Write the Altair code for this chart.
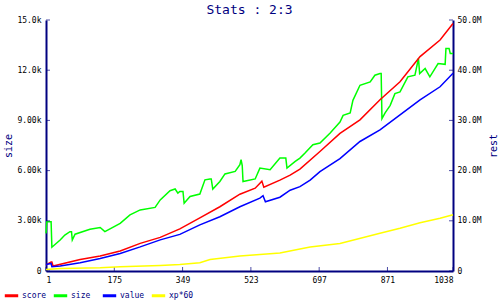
import altair as alt
import pandas as pd

# ---- data ----
size_x = [1, 3, 14, 16, 37, 49, 62, 66, 68, 75, 113, 139, 151, 190, 215, 241, 279, 292, 317, 330,
          337, 342, 350, 353, 368, 393, 406, 419, 422, 426, 444, 457, 483, 495, 498, 501, 503, 534, 546, 572,
          597, 612, 615, 636, 648, 661, 681, 699, 725, 750, 758, 776, 783, 801, 827, 839, 852, 855, 857, 865,
          878, 890, 903, 923, 941, 950, 953, 967, 979, 1000, 1018, 1020, 1028, 1031, 1038]
size_k = [2.25, 2.95, 2.95, 1.42, 1.85, 2.15, 2.35, 2.35, 1.85, 2.2, 2.5, 2.6, 2.35, 2.85, 3.35, 3.65, 3.8, 4.25, 4.8, 4.9,
          4.65, 4.75, 4.75, 4.05, 4.45, 4.6, 5.45, 5.5, 5.5, 4.9, 5.35, 5.8, 5.95, 6.35, 6.65, 6.3, 5.35, 5.5, 6.15, 6.05,
          6.75, 6.75, 6.15, 6.55, 6.75, 7.05, 7.55, 7.65, 8.25, 8.9, 9.3, 9.45, 10.2, 11.1, 11.3, 11.7, 11.8, 11.8, 9.1, 9.45,
          9.9, 10.6, 10.7, 11.6, 11.7, 12.7, 11.8, 12.1, 11.6, 12.4, 12.35, 13.3, 13.3, 13.0, 13.0]

score_x = [1, 14, 16, 19, 88, 139, 190, 241, 292, 342, 393, 444, 495, 534, 551, 556, 597, 623, 648, 699,
           750, 801, 852, 903, 954, 1005, 1038]
score_m = [1.2, 1.8, 1.8, 1.0, 2.3, 3.0, 4.0, 5.5, 6.7, 8.4, 10.6, 12.8, 15.3, 16.5, 17.9, 16.7, 18.1, 19.1, 20.3, 23.8,
           27.4, 30.1, 34.1, 37.7, 42.7, 46.0, 49.3]

value_x = [1, 14, 16, 37, 88, 139, 190, 241, 292, 342, 393, 444, 495, 546, 554, 560, 597, 623, 648, 674,
           699, 750, 801, 852, 903, 954, 1005, 1038]
value_m = [1.3, 1.5, 0.85, 1.0, 1.65, 2.5, 3.5, 4.8, 6.2, 7.3, 9.2, 10.8, 12.8, 14.5, 15.0, 13.8, 14.7, 16.1, 16.8, 18.1,
           19.8, 22.4, 25.8, 28.1, 31.1, 34.1, 36.7, 39.4]

xp_x = [1, 37, 139, 190, 292, 342, 393, 419, 495, 597, 648, 674, 750, 852, 903, 954, 1005, 1038]
xp_m = [0.3, 0.5, 0.66, 0.86, 1.1, 1.3, 1.65, 2.3, 3.0, 3.6, 4.4, 4.8, 5.5, 7.5, 8.5, 9.6, 10.5, 11.2]

series_names = ["score", "size", "value", "xp*60"]
series_colors = ["#ff0000", "#00ff00", "#0000ff", "#ffff00"]

x_ticks = [1, 175, 349, 523, 697, 871, 1038]
left_ticks = [0, 3000, 6000, 9000, 12000, 15000]
right_ticks = [0, 10000000, 20000000, 30000000, 40000000, 50000000]

rows = []
for x, v in zip(score_x, score_m):
    rows.append({"x": x, "v": v * 1e6, "series": "score"})
for x, v in zip(size_x, size_k):
    rows.append({"x": x, "v": v * 1e3, "series": "size"})
for x, v in zip(value_x, value_m):
    rows.append({"x": x, "v": v * 1e6, "series": "value"})
for x, v in zip(xp_x, xp_m):
    rows.append({"x": x, "v": v * 1e6, "series": "xp*60"})
df = pd.DataFrame(rows)

left_df = pd.DataFrame({"v": left_ticks})
right_df = pd.DataFrame({"v": right_ticks})
xt_df = pd.DataFrame({"x": x_ticks})

NAVY = "#000080"
FONT = "DejaVu Sans Mono"

xscale = alt.Scale(domain=[1, 1038], nice=False, zero=False)
lscale = alt.Scale(domain=[0, 15000], nice=False)
rscale = alt.Scale(domain=[0, 50000000], nice=False)

common_axis = dict(ticks=False, grid=False, domainColor=NAVY, domainWidth=2,
                   labelColor="black", labelFont=FONT, labelFontSize=8,
                   titleColor=NAVY, titleFont=FONT, titleFontSize=10, titleFontWeight="normal")

x_axis = alt.Axis(values=x_ticks, format="d", title=None, labelPadding=5, **common_axis)
left_axis = alt.Axis(values=left_ticks, title="size", orient="left",
                     labelExpr="datum.value == 0 ? '0' : format(datum.value, '.3s')",
                     labelPadding=5, titlePadding=3, **common_axis)
right_axis = alt.Axis(values=right_ticks, title="rest", orient="right", titleAngle=270,
                      labelExpr="datum.value == 0 ? '0' : format(datum.value, '.3s')",
                      labelPadding=4, titlePadding=17, **common_axis)

color_enc = alt.Color("series:N",
                      scale=alt.Scale(domain=series_names, range=series_colors),
                      legend=alt.Legend(title=None, orient="none", legendX=-43, legendY=267,
                                        direction="horizontal", symbolType="stroke",
                                        symbolStrokeWidth=3, symbolSize=180, gridAlign="all",
                                        columnPadding=0, labelOffset=2, padding=0,
                                        labelFont=FONT, labelFontSize=8, labelColor=NAVY))

size_line = alt.Chart(df).transform_filter(alt.datum.series == "size").mark_line(strokeWidth=1.5).encode(
    x=alt.X("x:Q", scale=xscale, axis=x_axis, title=None),
    y=alt.Y("v:Q", scale=lscale, axis=left_axis, title="size"),
    color=color_enc,
)
left_tick_marks = alt.Chart(left_df).mark_tick(orient="horizontal", size=4, thickness=1,
                                               color=NAVY, xOffset=2).encode(
    x=alt.X(datum=1, scale=xscale, axis=x_axis, title=None),
    y=alt.Y("v:Q", scale=lscale, axis=left_axis, title="size"),
)
bottom_tick_marks = alt.Chart(xt_df).mark_tick(orient="vertical", size=4, thickness=1,
                                               color=NAVY, yOffset=-2).encode(
    x=alt.X("x:Q", scale=xscale, axis=x_axis, title=None),
    y=alt.Y(datum=0, scale=lscale, axis=left_axis, title="size"),
)
left_group = alt.layer(size_line, left_tick_marks, bottom_tick_marks)

rest_lines = alt.Chart(df).transform_filter(alt.datum.series != "size").mark_line(strokeWidth=1.5).encode(
    x=alt.X("x:Q", scale=xscale, axis=x_axis, title=None),
    y=alt.Y("v:Q", scale=rscale, axis=right_axis, title="rest"),
    color=color_enc,
)
right_tick_marks = alt.Chart(right_df).mark_tick(orient="horizontal", size=4, thickness=1,
                                                 color=NAVY, xOffset=-2).encode(
    x=alt.X(datum=1038, scale=xscale, axis=x_axis, title=None),
    y=alt.Y("v:Q", scale=rscale, axis=right_axis, title="rest"),
)
right_group = alt.layer(rest_lines, right_tick_marks)

chart = alt.layer(left_group, right_group).resolve_scale(y="independent").properties(
    width=407, height=251,
    title=alt.Title("Stats : 2:3", font=FONT, fontSize=13, color=NAVY, fontWeight="normal",
                    anchor="middle", frame="group", offset=-1),
    autosize=alt.AutoSizeParams(type="none"),
    padding={"left": 46, "top": 20, "right": 47, "bottom": 29},
    background="white",
).configure_view(stroke=None)

chart.save("out.html", embed_options={"renderer": "svg", "actions": False})
